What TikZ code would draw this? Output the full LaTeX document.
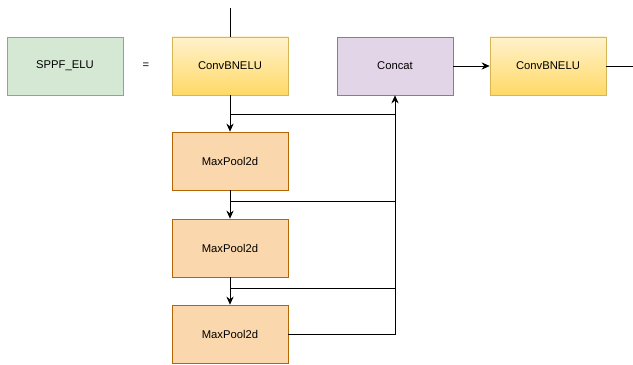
\documentclass[tikz,border=0pt]{standalone}
\usepackage{fontspec}
\setmainfont{Liberation Sans}
\usetikzlibrary{positioning,calc,arrows,arrows.meta}
\definecolor{greenfill}{HTML}{D5E8D4}
\definecolor{greenline}{HTML}{82B366}
\definecolor{convtop}{HTML}{FFF2CC}
\definecolor{convbot}{HTML}{FFD966}
\definecolor{convline}{HTML}{D6B656}
\definecolor{catfill}{HTML}{E1D5E7}
\definecolor{catline}{HTML}{9673A6}
\definecolor{poolfill}{HTML}{FAD7AC}
\definecolor{poolline}{HTML}{B46504}
\tikzset{font=\fontsize{8}{9}\selectfont}

\begin{document}
\begin{tikzpicture}[x=0.025cm, y=-0.025cm, >={Stealth[length=2mm,width=1.8mm]}]
	\useasboundingbox (0,0) rectangle (633,365);
	\begin{scope}
		\tikzstyle{every node}=[align=center, inner sep=0pt, minimum width=2.9cm, minimum height=1.45cm, line width=0.5pt]
		\tikzstyle{conv}=[draw=convline, top color=convtop, bottom color=convbot]
		\tikzstyle{pool}=[draw=poolline, fill=poolfill]
		\node[draw=greenline, fill=greenfill] (sppf) at (65, 66) {SPPF\_ELU};
		\node[minimum width=0pt] (eq) at (146, 66) {=};
		\node[conv] (conv1) at (230, 66) {ConvBNELU};
		\node[draw=catline, fill=catfill] (concat) at (395, 66) {Concat};
		\node[conv] (conv2) at (548, 66) {ConvBNELU};
		\node[pool] (pool1) at (230, 161) {MaxPool2d};
		\node[pool] (pool2) at (230, 248) {MaxPool2d};
		\node[pool] (pool3) at (230, 334) {MaxPool2d};

		\coordinate (in) at (230, 8);
		\coordinate (out) at (633, 66);
		\coordinate (b1) at (230, 114);
		\coordinate (b2) at (230, 201);
		\coordinate (b3) at (230, 288);

		\draw[line width=0.6pt      ](in) -- (conv1);
		\draw[->, line width=0.6pt  ](conv1) -- (pool1);
		\draw[->, line width=0.6pt  ](pool1) -- (pool2);
		\draw[->, line width=0.6pt  ](pool2) -- (pool3);
		\draw[->, line width=0.6pt  ](pool3) -| (concat);
		\draw[line width=0.6pt      ](b1) -- (b1 -| concat);
		\draw[line width=0.6pt      ](b2) -- (b2 -| concat);
		\draw[line width=0.6pt      ](b3) -- (b3 -| concat);
		\draw[->, line width=0.6pt  ](concat) -- (conv2);
		\draw[line width=0.6pt      ](conv2) -- (out);
	\end{scope}
\end{tikzpicture}
\end{document}
